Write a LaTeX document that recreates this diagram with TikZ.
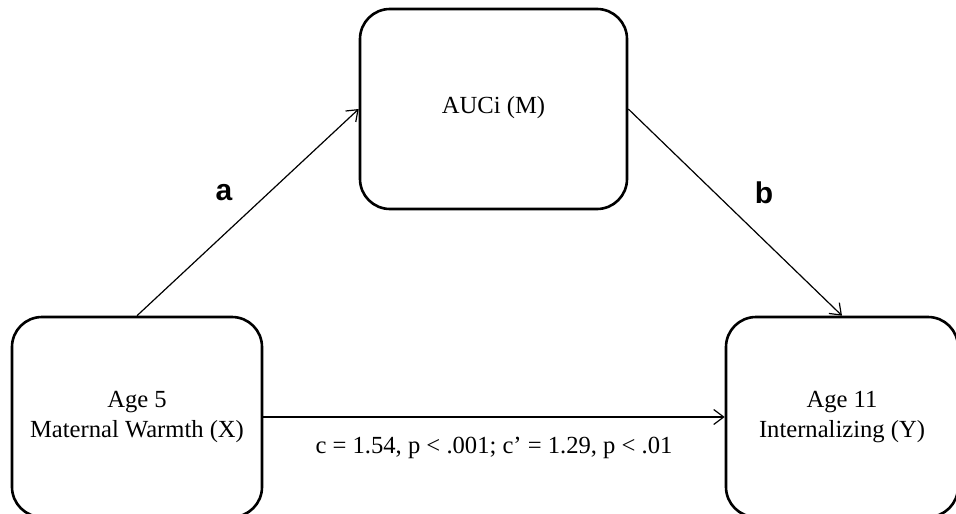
\documentclass[tikz,border=0pt]{standalone}
\usepackage{fontspec}
\setmainfont{Liberation Serif}
\newfontfamily\pathfont{Liberation Sans}
\usetikzlibrary{arrows.meta}
\begin{document}
\begin{tikzpicture}[x=1pt, y=-1pt,
    box/.style={draw, line width=2.6pt, rounded corners=30pt, minimum height=200pt, align=center, font=\fontsize{24.6}{30.5}\selectfont},
    link/.style={line width=1.2pt, -{Straight Barb[length=10pt, width=15pt, line width=1.2pt]}},
    pathlabel/.style={font=\pathfont\bfseries\fontsize{30}{36}\selectfont}]
    \clip (0,0) rectangle (956,514);
    \node[box, minimum width=267pt] (m) at (493.5,109) {\raisebox{9pt}{AUCi (M)}};
    \node[box, minimum width=250pt] (x) at (137,417) {\raisebox{-3pt}{Age 5}\\\raisebox{-3pt}{Maternal Warmth (X)}};
    \node[box, minimum width=232pt] (y) at (842,417) {\raisebox{4pt}{Age 11}\\\raisebox{4pt}{Internalizing (Y)}};
    \draw[link] (x.north) -- (m.west);
    \draw[link] (m.east) -- (y.north);
    \draw[link] (x.east) -- node[below=16pt, font=\fontsize{24.6}{28}\selectfont] (c) {c = 1.54, p < .001; c’ = 1.29, p < .01} (y.west);
    \node[pathlabel] (a) at (224,193) {a};
    \node[pathlabel] (b) at (764,193) {b};
\end{tikzpicture}
\end{document}
